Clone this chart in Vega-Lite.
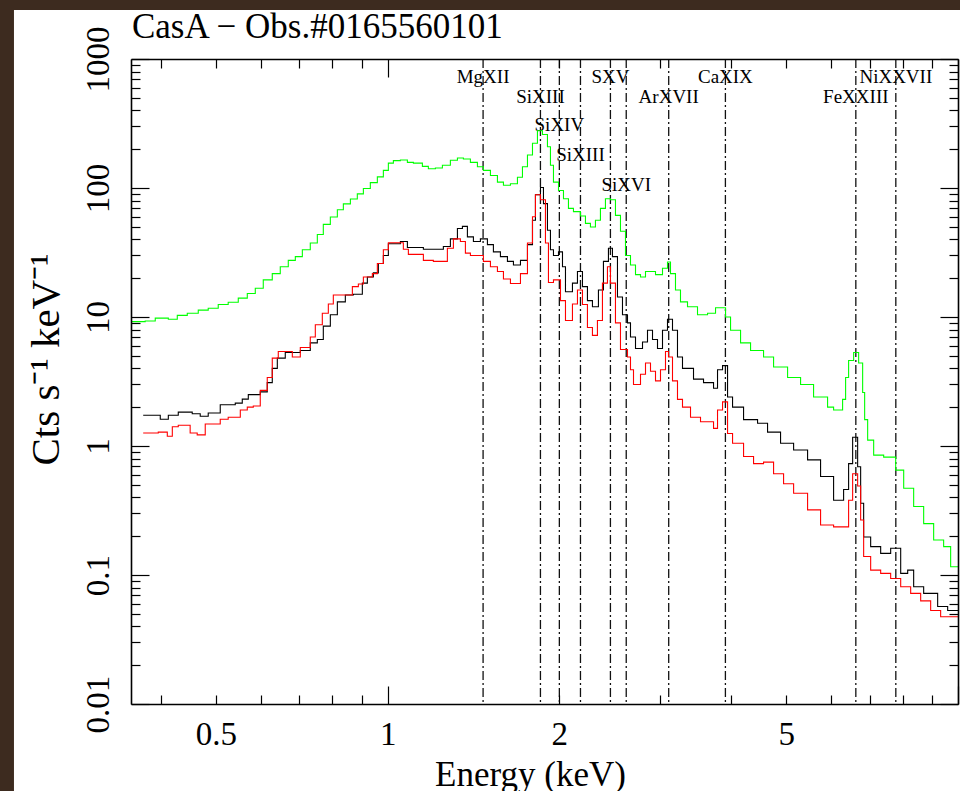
{
  "$schema": "https://vega.github.io/schema/vega-lite/v6.json",
  "width": 827,
  "height": 645,
  "autosize": "none",
  "padding": {"left": 131, "top": 59, "right": 2, "bottom": 87},
  "background": "#3d2b1f",
  "title": {"text": "CasA − Obs.#0165560101", "anchor": "start", "font": "Liberation Serif", "fontSize": 35, "fontWeight": "normal", "color": "black", "offset": 0, "baseline": "alphabetic", "dx": 118, "dy": 63, "zindex": 1},
  "datasets": {
    "lines": [
      {"ion": "MgXII", "E": 1.47, "labelY": 652},
      {"ion": "SiXIII", "E": 1.853, "labelY": 456},
      {"ion": "SiXIV", "E": 2.0, "labelY": 277},
      {"ion": "SiXIII", "E": 2.178, "labelY": 162},
      {"ion": "SXV", "E": 2.458, "labelY": 652},
      {"ion": "SiXVI", "E": 2.62, "labelY": 95},
      {"ion": "ArXVII", "E": 3.11, "labelY": 456},
      {"ion": "CaXIX", "E": 3.91, "labelY": 652},
      {"ion": "FeXXIII", "E": 6.62, "labelY": 456},
      {"ion": "NiXXVII", "E": 7.78, "labelY": 652}
    ],
    "pn": [
      {"E":0.355,"flux":9.2},{"E":0.3757,"flux":9.3},{"E":0.3913,"flux":9.8},{"E":0.4125,"flux":9.6},{"E":0.4277,"flux":10.3},{"E":0.4453,"flux":10.7},{"E":0.4655,"flux":11.3},{"E":0.4846,"flux":11.7},{"E":0.5046,"flux":12.5},{"E":0.5253,"flux":13.0},{"E":0.5471,"flux":14.0},{"E":0.5674,"flux":15.2},{"E":0.586,"flux":16.7},{"E":0.6052,"flux":19.4},{"E":0.6276,"flux":21.7},{"E":0.6482,"flux":24.5},{"E":0.6695,"flux":27.5},{"E":0.6888,"flux":29.4},{"E":0.7086,"flux":33.2},{"E":0.7317,"flux":37.5},{"E":0.7528,"flux":43.6},{"E":0.7712,"flux":52.2},{"E":0.7934,"flux":59.6},{"E":0.8162,"flux":67.8},{"E":0.8362,"flux":75.3},{"E":0.8603,"flux":82.1},{"E":0.8847,"flux":90},{"E":0.9066,"flux":99},{"E":0.9324,"flux":110},{"E":0.9592,"flux":122},{"E":0.9828,"flux":137},{"E":1.0028,"flux":156},{"E":1.0233,"flux":163},{"E":1.0527,"flux":165},{"E":1.0829,"flux":158},{"E":1.1095,"flux":156},{"E":1.1505,"flux":147},{"E":1.1786,"flux":141},{"E":1.2125,"flux":143},{"E":1.2473,"flux":150},{"E":1.2882,"flux":164},{"E":1.3253,"flux":171},{"E":1.3577,"flux":168},{"E":1.3966,"flux":158},{"E":1.4367,"flux":146},{"E":1.4719,"flux":137},{"E":1.5142,"flux":125},{"E":1.5576,"flux":111},{"E":1.5959,"flux":105},{"E":1.6416,"flux":108},{"E":1.6887,"flux":121},{"E":1.7232,"flux":146},{"E":1.7584,"flux":180},{"E":1.7944,"flux":222},{"E":1.8307,"flux":278},{"E":1.8681,"flux":260},{"E":1.9062,"flux":209},{"E":1.9294,"flux":150},{"E":1.9531,"flux":111},{"E":1.9931,"flux":95.6},{"E":2.0336,"flux":82.6},{"E":2.0749,"flux":69.5},{"E":2.1172,"flux":65.6},{"E":2.1779,"flux":60.6},{"E":2.2223,"flux":53.2},{"E":2.2675,"flux":49.9},{"E":2.3136,"flux":56.3},{"E":2.3608,"flux":69.5},{"E":2.409,"flux":82.6},{"E":2.4582,"flux":81},{"E":2.5085,"flux":61.3},{"E":2.5598,"flux":46.2},{"E":2.6121,"flux":30},{"E":2.6654,"flux":25.3},{"E":2.7199,"flux":21.3},{"E":2.7754,"flux":20.4},{"E":2.8319,"flux":22.5},{"E":2.9486,"flux":21.3},{"E":3.0331,"flux":23.9},{"E":3.0949,"flux":26.7},{"E":3.1325,"flux":21.7},{"E":3.1964,"flux":16.2},{"E":3.2616,"flux":13.1},{"E":3.3553,"flux":12.0},{"E":3.4936,"flux":10.4},{"E":3.6378,"flux":10.7},{"E":3.7573,"flux":11.8},{"E":3.9124,"flux":10.0},{"E":3.9922,"flux":7.9},{"E":4.1569,"flux":6.3},{"E":4.3281,"flux":5.5},{"E":4.5611,"flux":4.9},{"E":4.7495,"flux":4.1},{"E":5.0258,"flux":3.4},{"E":5.2966,"flux":3.0},{"E":5.5818,"flux":2.4},{"E":5.9065,"flux":2.0},{"E":6.0516,"flux":1.9},{"E":6.2757,"flux":2.3},{"E":6.3523,"flux":3.4},{"E":6.4298,"flux":4.6},{"E":6.5617,"flux":5.3},{"E":6.6955,"flux":4.4},{"E":6.8048,"flux":2.6},{"E":6.86,"flux":1.6},{"E":6.9437,"flux":1.11},{"E":7.1143,"flux":0.85},{"E":7.4075,"flux":0.82},{"E":7.7755,"flux":0.65},{"E":8.0312,"flux":0.47},{"E":8.361,"flux":0.34},{"E":8.7057,"flux":0.25},{"E":9.0639,"flux":0.187},{"E":9.4366,"flux":0.166},{"E":9.7075,"flux":0.116},{"E":10.0,"flux":0.116}
    ],
    "mos1": [
      {"E":0.3727,"flux":1.73},{"E":0.3993,"flux":1.61},{"E":0.4125,"flux":1.73},{"E":0.4294,"flux":1.83},{"E":0.4543,"flux":1.78},{"E":0.4692,"flux":1.70},{"E":0.4846,"flux":1.80},{"E":0.5087,"flux":2.09},{"E":0.5405,"flux":2.15},{"E":0.556,"flux":2.31},{"E":0.5697,"flux":2.5},{"E":0.5979,"flux":2.63},{"E":0.615,"flux":3.1},{"E":0.6276,"flux":4.0},{"E":0.6405,"flux":4.8},{"E":0.6614,"flux":5.3},{"E":0.7028,"flux":5.5},{"E":0.7317,"flux":6.3},{"E":0.7528,"flux":6.7},{"E":0.7712,"flux":8.5},{"E":0.7934,"flux":10.4},{"E":0.8162,"flux":13.1},{"E":0.8429,"flux":14.8},{"E":0.8706,"flux":15.0},{"E":0.9028,"flux":18.3},{"E":0.9213,"flux":20.4},{"E":0.9439,"flux":22.0},{"E":0.9631,"flux":26},{"E":0.9828,"flux":30},{"E":1.0028,"flux":37},{"E":1.0527,"flux":38.5},{"E":1.0829,"flux":34.6},{"E":1.1551,"flux":33.5},{"E":1.2522,"flux":35.2},{"E":1.2882,"flux":40.3},{"E":1.3253,"flux":48.5},{"E":1.3523,"flux":50.4},{"E":1.3798,"flux":41.8},{"E":1.4137,"flux":38.5},{"E":1.4541,"flux":40.3},{"E":1.4959,"flux":36.4},{"E":1.5325,"flux":32},{"E":1.5765,"flux":29.4},{"E":1.6218,"flux":27},{"E":1.6616,"flux":25.3},{"E":1.7094,"flux":27.5},{"E":1.7584,"flux":36.4},{"E":1.7944,"flux":56.3},{"E":1.816,"flux":88.7},{"E":1.8531,"flux":101},{"E":1.8757,"flux":75.7},{"E":1.9062,"flux":47},{"E":1.9294,"flux":33.2},{"E":1.9531,"flux":30.0},{"E":1.9931,"flux":32},{"E":2.0255,"flux":24.5},{"E":2.0501,"flux":15.7},{"E":2.1086,"flux":18.3},{"E":2.1517,"flux":22.5},{"E":2.1956,"flux":17.2},{"E":2.2402,"flux":13.4},{"E":2.2858,"flux":12.0},{"E":2.3418,"flux":16.2},{"E":2.3896,"flux":27},{"E":2.4384,"flux":34.1},{"E":2.4782,"flux":29.4},{"E":2.5289,"flux":14.3},{"E":2.5806,"flux":10.4},{"E":2.6333,"flux":9.0},{"E":2.6654,"flux":7.0},{"E":2.7199,"flux":5.7},{"E":2.7979,"flux":6.4},{"E":2.8549,"flux":7.9},{"E":2.9132,"flux":6.7},{"E":2.9725,"flux":5.7},{"E":3.0331,"flux":7.9},{"E":3.0949,"flux":9.6},{"E":3.158,"flux":7.9},{"E":3.2223,"flux":4.9},{"E":3.2881,"flux":4.0},{"E":3.4376,"flux":3.3},{"E":3.5794,"flux":3.1},{"E":3.7271,"flux":2.8},{"E":3.7876,"flux":3.9},{"E":3.8651,"flux":4.2},{"E":3.9442,"flux":2.4},{"E":4.0245,"flux":2.0},{"E":4.2075,"flux":1.6},{"E":4.4521,"flux":1.5},{"E":4.6354,"flux":1.28},{"E":4.8853,"flux":1.05},{"E":5.1495,"flux":0.93},{"E":5.4484,"flux":0.78},{"E":5.7418,"flux":0.58},{"E":6.0516,"flux":0.38},{"E":6.3011,"flux":0.46},{"E":6.4298,"flux":0.73},{"E":6.5352,"flux":1.17},{"E":6.6686,"flux":0.69},{"E":6.75,"flux":0.36},{"E":6.8324,"flux":0.197},{"E":7.0286,"flux":0.166},{"E":7.3184,"flux":0.147},{"E":7.6199,"flux":0.161},{"E":7.9345,"flux":0.103},{"E":8.1619,"flux":0.109},{"E":8.361,"flux":0.081},{"E":8.7057,"flux":0.072},{"E":9.2115,"flux":0.057},{"E":9.5913,"flux":0.053},{"E":10.0,"flux":0.053}
    ],
    "mos2": [
      {"E":0.3727,"flux":1.26},{"E":0.3961,"flux":1.28},{"E":0.4108,"flux":1.19},{"E":0.4192,"flux":1.41},{"E":0.4294,"flux":1.45},{"E":0.4505,"flux":1.26},{"E":0.4635,"flux":1.22},{"E":0.4788,"flux":1.48},{"E":0.5087,"flux":1.61},{"E":0.5253,"flux":1.67},{"E":0.5516,"flux":1.9},{"E":0.5674,"flux":2.0},{"E":0.5813,"flux":2.04},{"E":0.5979,"flux":2.7},{"E":0.615,"flux":3.4},{"E":0.6276,"flux":4.8},{"E":0.643,"flux":5.4},{"E":0.6805,"flux":4.9},{"E":0.7028,"flux":5.8},{"E":0.7317,"flux":7.0},{"E":0.7467,"flux":8.7},{"E":0.7681,"flux":10.7},{"E":0.787,"flux":12.6},{"E":0.803,"flux":14.8},{"E":0.8672,"flux":17.2},{"E":0.8884,"flux":18.0},{"E":0.9066,"flux":20.4},{"E":0.9401,"flux":21.7},{"E":0.9592,"flux":26},{"E":0.9828,"flux":33.2},{"E":1.0028,"flux":37.6},{"E":1.0654,"flux":33.5},{"E":1.0872,"flux":30.6},{"E":1.1551,"flux":27.5},{"E":1.2027,"flux":27},{"E":1.2726,"flux":34.1},{"E":1.304,"flux":40.3},{"E":1.3413,"flux":38.5},{"E":1.3687,"flux":31.3},{"E":1.3966,"flux":30},{"E":1.4719,"flux":27},{"E":1.5142,"flux":24.5},{"E":1.5576,"flux":22.5},{"E":1.5959,"flux":19.7},{"E":1.6416,"flux":18.2},{"E":1.7094,"flux":21.7},{"E":1.7584,"flux":37.5},{"E":1.7944,"flux":59.9},{"E":1.816,"flux":88.7},{"E":1.8531,"flux":81},{"E":1.8909,"flux":37.5},{"E":1.9139,"flux":18.5},{"E":1.9531,"flux":19.4},{"E":2.0092,"flux":13.4},{"E":2.0501,"flux":9.4},{"E":2.1086,"flux":12.6},{"E":2.1517,"flux":16.2},{"E":2.1956,"flux":12.5},{"E":2.2402,"flux":8.3},{"E":2.2858,"flux":7.2},{"E":2.3324,"flux":9.4},{"E":2.38,"flux":18.3},{"E":2.4286,"flux":24.5},{"E":2.4582,"flux":18.3},{"E":2.5085,"flux":9},{"E":2.5598,"flux":5.6},{"E":2.6333,"flux":4.9},{"E":2.6654,"flux":3.9},{"E":2.698,"flux":3.0},{"E":2.7754,"flux":3.6},{"E":2.8319,"flux":4.4},{"E":2.8897,"flux":3.8},{"E":2.9486,"flux":3.2},{"E":3.0087,"flux":3.9},{"E":3.07,"flux":5.4},{"E":3.1074,"flux":4.9},{"E":3.158,"flux":3.2},{"E":3.2223,"flux":2.3},{"E":3.2881,"flux":2.0},{"E":3.3963,"flux":1.67},{"E":3.5362,"flux":1.54},{"E":3.7271,"flux":1.37},{"E":3.7876,"flux":1.9},{"E":3.8651,"flux":2.2},{"E":3.9442,"flux":1.25},{"E":4.0245,"flux":1.05},{"E":4.2075,"flux":0.83},{"E":4.3808,"flux":0.73},{"E":4.5611,"flux":0.75},{"E":4.7495,"flux":0.61},{"E":4.9452,"flux":0.51},{"E":5.1495,"flux":0.43},{"E":5.4484,"flux":0.32},{"E":5.7418,"flux":0.244},{"E":6.0516,"flux":0.236},{"E":6.4298,"flux":0.38},{"E":6.5352,"flux":0.61},{"E":6.6686,"flux":0.49},{"E":6.75,"flux":0.267},{"E":6.8324,"flux":0.139},{"E":7.0286,"flux":0.109},{"E":7.3184,"flux":0.103},{"E":7.6199,"flux":0.094},{"E":7.9345,"flux":0.081},{"E":8.2608,"flux":0.072},{"E":8.6011,"flux":0.063},{"E":8.9551,"flux":0.053},{"E":9.3232,"flux":0.0475},{"E":10.0,"flux":0.0475}
    ]
  },
  "layer": [
    {
      "data": {"values": [{"panel": "frame"}]},
      "mark": {"type": "rect", "fill": "white", "stroke": null},
      "encoding": {
        "x": {"datum": 0.2212, "type": "quantitative", "scale": {"type": "log", "domain": [0.3548, 10]},
          "axis": {"orient": "bottom", "values": [0.5, 1, 2, 5], "format": "~g", "ticks": false, "domain": true, "labelFontSize": 33, "labelPadding": 40, "labelBaseline": "alphabetic", "labelAlign": "center", "labelFlush": false, "labelOverlap": false, "labelBound": false, "title": "Energy (keV)", "titleFontSize": 35, "titleX": 399, "titleY": 81, "titleBaseline": "alphabetic", "titleAlign": "center", "zindex": 1}},
        "x2": {"datum": 100},
        "y": {"datum": 0.0001, "type": "quantitative", "scale": {"type": "log", "domain": [0.01, 1000]},
          "axis": {"orient": "left", "values": [0.01, 0.1, 1, 10, 100, 1000], "format": "~g", "ticks": false, "domain": true, "labelFontSize": 33, "labelAngle": -90, "labelPadding": 23, "labelBaseline": "alphabetic", "labelAlign": "center", "labelFlush": false, "labelOverlap": false, "labelBound": false, "title": "Cts s⁻¹ keV⁻¹", "titleFontSize": 41, "titleAngle": 270, "titleX": -73, "titleY": 300, "titleBaseline": "alphabetic", "titleAlign": "center", "zindex": 1}},
        "y2": {"datum": 2398}
      }
    },
    {
      "data": {"name": "lines"},
      "mark": {"type": "rule", "color": "#111111", "strokeWidth": 1.3, "strokeDash": [9, 3, 2, 3]},
      "encoding": {
        "x": {"field": "E", "type": "quantitative", "scale": {"type": "log", "domain": [0.3548, 10]},
          "axis": {"orient": "bottom", "values": [1, 10], "ticks": true, "tickSize": -18, "labels": false, "domain": false, "title": null, "zindex": 1}}
      }
    },
    {
      "data": {"name": "lines"},
      "mark": {"type": "text", "font": "Liberation Serif", "fontSize": 19, "baseline": "alphabetic", "align": "center", "color": "black"},
      "encoding": {
        "x": {"field": "E", "type": "quantitative", "scale": {"type": "log", "domain": [0.3548, 10]},
          "axis": {"orient": "bottom", "values": [0.4, 0.5, 0.6, 0.7, 0.8, 0.9, 2, 3, 4, 5, 6, 7, 8, 9], "ticks": true, "tickSize": -9, "labels": false, "domain": false, "title": null, "zindex": 1}},
        "y": {"field": "labelY", "type": "quantitative", "scale": {"type": "log", "domain": [0.01, 1000]},
          "axis": {"orient": "left", "values": [0.01, 0.1, 1, 10, 100, 1000], "ticks": true, "tickSize": -18, "labels": false, "domain": false, "title": null, "zindex": 1}},
        "text": {"field": "ion"}
      }
    },
    {
      "data": {"name": "pn"},
      "mark": {"type": "line", "interpolate": "step-after", "color": "#00ff00", "strokeWidth": 1.1},
      "encoding": {
        "x": {"field": "E", "type": "quantitative", "scale": {"type": "log", "domain": [0.3548, 10]},
          "axis": {"orient": "top", "values": [1, 10], "ticks": true, "tickSize": -18, "labels": false, "domain": true, "title": null, "zindex": 1}},
        "y": {"field": "flux", "type": "quantitative", "scale": {"type": "log", "domain": [0.01, 1000]},
          "axis": {"orient": "left", "values": [0.02,0.03,0.04,0.05,0.06,0.07,0.08,0.09,0.2,0.3,0.4,0.5,0.6,0.7,0.8,0.9,2,3,4,5,6,7,8,9,20,30,40,50,60,70,80,90,200,300,400,500,600,700,800,900], "ticks": true, "tickSize": -9, "labels": false, "domain": false, "title": null, "zindex": 1}}
      }
    },
    {
      "data": {"name": "mos1"},
      "mark": {"type": "line", "interpolate": "step-after", "color": "#000000", "strokeWidth": 1.1},
      "encoding": {
        "x": {"field": "E", "type": "quantitative", "scale": {"type": "log", "domain": [0.3548, 10]},
          "axis": {"orient": "top", "values": [0.4, 0.5, 0.6, 0.7, 0.8, 0.9, 2, 3, 4, 5, 6, 7, 8, 9], "ticks": true, "tickSize": -9, "labels": false, "domain": false, "title": null, "zindex": 1}},
        "y": {"field": "flux", "type": "quantitative", "scale": {"type": "log", "domain": [0.01, 1000]},
          "axis": {"orient": "right", "values": [0.01, 0.1, 1, 10, 100, 1000], "ticks": true, "tickSize": -18, "labels": false, "domain": true, "title": null, "zindex": 1}}
      }
    },
    {
      "data": {"name": "mos2"},
      "mark": {"type": "line", "interpolate": "step-after", "color": "#ff0000", "strokeWidth": 1.1},
      "encoding": {
        "x": {"field": "E", "type": "quantitative", "scale": {"type": "log", "domain": [0.3548, 10]}, "axis": null},
        "y": {"field": "flux", "type": "quantitative", "scale": {"type": "log", "domain": [0.01, 1000]},
          "axis": {"orient": "right", "values": [0.02,0.03,0.04,0.05,0.06,0.07,0.08,0.09,0.2,0.3,0.4,0.5,0.6,0.7,0.8,0.9,2,3,4,5,6,7,8,9,20,30,40,50,60,70,80,90,200,300,400,500,600,700,800,900], "ticks": true, "tickSize": -9, "labels": false, "domain": false, "title": null, "zindex": 1}}
      }
    }
  ],
  "resolve": {"axis": {"x": "independent", "y": "independent"}},
  "config": {
    "view": {"stroke": null},
    "axis": {"grid": false, "tickColor": "black", "domainColor": "black", "labelColor": "black", "titleColor": "black", "labelFont": "Liberation Serif", "titleFont": "Liberation Serif", "titleFontWeight": "normal", "tickWidth": 1.2, "domainWidth": 1.6}
  }
}
